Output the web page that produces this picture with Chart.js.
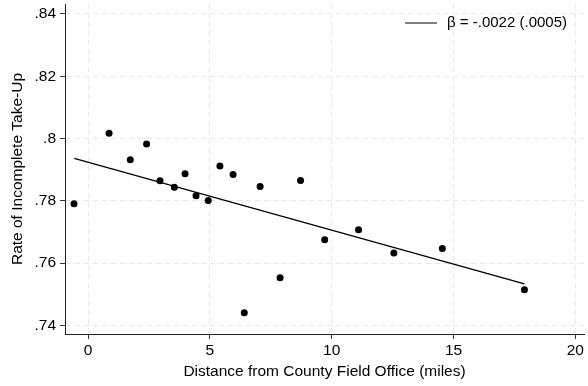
<!DOCTYPE html>
<html>
<head>
<meta charset="utf-8">
<script src="https://cdn.jsdelivr.net/npm/chart.js@4/dist/chart.umd.min.js"></script>
<style>
  html, body { margin: 0; padding: 0; background: #fff; }
  #wrap { width: 588px; height: 386px; }
</style>
</head>
<body>
<div id="wrap"><canvas id="c" width="588" height="386"></canvas></div>
<script>
// ---- data ----
const distance = [-0.58, 0.86, 1.73, 2.40, 2.95, 3.54, 3.98, 4.43, 4.93, 5.41, 5.95, 6.41, 7.06, 7.88, 8.72, 9.71, 11.10, 12.55, 14.54, 17.91];
const takeUp   = [.7790, .8017, .7932, .7982, .7864, .7843, .7887, .7816, .7801, .7912, .7884, .7440, .7846, .7553, .7865, .7675, .7707, .7632, .7647, .7514];
const fitX = [-0.57, 17.91];
const fitY = [.7936, .7533];
const fitLabel = 'β = -.0022 (.0005)';
const xTicks = [0, 5, 10, 15, 20];
const yTicks = [.74, .76, .78, .80, .82, .84];
const xTitle = 'Distance from County Field Office (miles)';
const yTitle = 'Rate of Incomplete Take-Up';

const FONT = '"Liberation Sans", Arial, Helvetica, sans-serif';
const FS = 15.5;
const LEGEND_FS = 15;
Chart.defaults.font.family = FONT;
Chart.defaults.color = '#000';

const legendPlugin = {
  id: 'insideLegend',
  afterDraw(chart) {
    const ctx = chart.ctx, a = chart.chartArea;
    ctx.save();
    ctx.font = LEGEND_FS + 'px ' + FONT;
    ctx.fillStyle = '#000';
    ctx.textBaseline = 'middle';
    ctx.textAlign = 'right';
    const textRight = a.right - 17;
    const y = a.top + 19;
    ctx.fillText(fitLabel, textRight, y);
    const w = ctx.measureText(fitLabel).width;
    const lineEnd = textRight - w - 10;
    ctx.strokeStyle = '#000';
    ctx.lineWidth = 1.2;
    ctx.beginPath();
    ctx.moveTo(lineEnd - 32, y);
    ctx.lineTo(lineEnd, y);
    ctx.stroke();
    ctx.restore();
  }
};

const fmt = v => String(v).replace(/^(-?)0\./, '$1.');

new Chart(document.getElementById('c'), {
  type: 'scatter',
  data: {
    datasets: [
      {
        type: 'line',
        data: fitX.map((x, i) => ({ x, y: fitY[i] })),
        borderColor: '#000',
        borderWidth: 1.3,
        pointRadius: 0,
        fill: false,
        order: 2
      },
      {
        type: 'scatter',
        data: distance.map((x, i) => ({ x, y: takeUp[i] })),
        backgroundColor: '#000',
        borderWidth: 0,
        pointRadius: 3.5,
        order: 1
      }
    ]
  },
  options: {
    responsive: false,
    animation: false,
    devicePixelRatio: 1,
    layout: { padding: { top: 4, right: 0, left: 0, bottom: 0 } },
    plugins: { legend: { display: false }, tooltip: { enabled: false } },
    scales: {
      x: {
        type: 'linear',
        min: -0.949,
        max: 20.355,
        afterBuildTicks: s => { s.ticks = xTicks.map(v => ({ value: v })); },
        afterFit: s => { s.height = 52; s.paddingLeft = 0; s.paddingRight = 0; },
        ticks: { callback: v => fmt(v), font: { size: FS }, padding: 2, maxRotation: 0, autoSkip: false },
        grid: { color: '#e8e8e8', lineWidth: 1, tickColor: '#333', tickLength: 5, tickWidth: 1 },
        border: { display: true, color: '#222', width: 1, dash: [5, 4] },
        title: { display: true, text: xTitle, font: { size: FS }, padding: { top: 0, bottom: 5 } }
      },
      y: {
        type: 'linear',
        min: .7372,
        max: .8432,
        afterBuildTicks: s => { s.ticks = yTicks.map(v => ({ value: v })); },
        afterFit: s => { s.width = 65; s.paddingTop = 0; s.paddingBottom = 0; },
        ticks: { callback: v => fmt(v), font: { size: FS }, padding: 4, autoSkip: false },
        grid: { color: '#e8e8e8', lineWidth: 1, tickColor: '#333', tickLength: 5, tickWidth: 1 },
        border: { display: true, color: '#222', width: 1, dash: [5, 4] },
        title: { display: true, text: yTitle, font: { size: FS }, padding: { top: 8, bottom: 0 } }
      }
    }
  },
  plugins: [legendPlugin]
});
</script>
</body>
</html>
